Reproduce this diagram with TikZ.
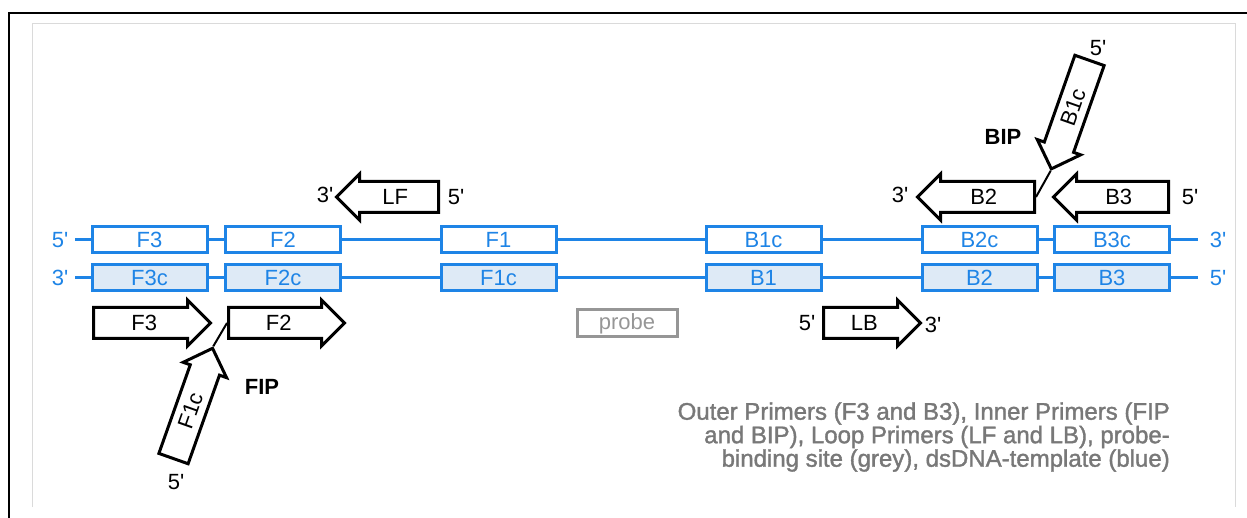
\documentclass[tikz,border=0pt]{standalone}
\usepackage{fontspec}
\setmainfont{Liberation Sans}
\newfontfamily\notefont[FakeBold=1.5]{Liberation Sans}
\usetikzlibrary{shapes.arrows}
\definecolor{dnablue}{RGB}{30,132,230}
\definecolor{dnafill}{RGB}{222,234,246}
\definecolor{probegrey}{RGB}{150,150,150}
\definecolor{notegrey}{RGB}{120,120,120}
\definecolor{framegrey}{RGB}{218,218,218}
\newcommand{\prm}{\textquotesingle}

\begin{document}
\begin{tikzpicture}[x=1pt,y=-1pt,font=\fontsize{22pt}{26pt}\selectfont,
  strand/.style={draw=dnablue,line width=3pt},
  site/.style={draw=dnablue,line width=3pt,minimum width=115pt,minimum height=26pt,inner sep=0pt,text=dnablue},
  primer/.style={draw,line width=3pt,fill=white,shape=single arrow,single arrow head extend=7.5pt,
    text height=17pt,text depth=2pt,inner ysep=4.5pt,inner xsep=0pt,anchor=tail},
  end/.style={inner sep=0pt}]
\useasboundingbox (0,0) rectangle (1247,518);
\draw[line width=2.5pt] (9,518) -- (9,13) -- (1247,13);
\draw[framegrey,line width=1pt] (32,507) -- (32,24) -- (1235,24) -- (1235,507);

\coordinate (t5) at (75,240);
\coordinate (t3) at (1198,240);
\coordinate (b3) at (75,278);
\coordinate (b5) at (1198,278);
\path[strand] (t5) -- (t3);
\path[strand] (b3) -- (b5);
\node[end,text=dnablue] at (60,240) {5\prm};
\node[end,text=dnablue] at (60,278) {3\prm};
\node[end,text=dnablue] at (1218,240) {3\prm};
\node[end,text=dnablue] at (1218,278) {5\prm};

\node[site,fill=white] (1t) at (149.5,240) {F3};
\node[site,fill=white] (2t) at (283,240) {F2};
\node[site,fill=white] (3t) at (498.5,240) {F1};
\node[site,fill=white] (4t) at (763.5,240) {B1c};
\node[site,fill=white] (5t) at (979.5,240) {B2c};
\node[site,fill=white] (6t) at (1112,240) {B3c};
\node[site,fill=dnafill] (1b) at (149.5,278) {F3c};
\node[site,fill=dnafill] (2b) at (283,278) {F2c};
\node[site,fill=dnafill] (3b) at (498.5,278) {F1c};
\node[site,fill=dnafill] (4b) at (763.5,278) {B1};
\node[site,fill=dnafill] (5b) at (979.5,278) {B2};
\node[site,fill=dnafill] (6b) at (1112,278) {B3};

\node[draw=probegrey,line width=3pt,text=probegrey,minimum width=100pt,minimum height=27pt,inner sep=0pt] (probe) at (627,323.5) {probe};

\node[primer,minimum height=117pt] (F3p) at (92,323) {F3};
\node[primer,minimum height=116pt] (F2p) at (227,323) {F2};
\node[primer,minimum height=97pt] (LBp) at (822,323) {LB};
\node[primer,minimum height=102pt,shape border rotate=180] (LFp) at (440,197) {LF};
\node[primer,minimum height=117pt,shape border rotate=180] (B2p) at (1036,197) {B2};
\node[primer,minimum height=115pt,shape border rotate=180] (B3p) at (1170,197) {B3};
\node[primer,minimum height=117pt,rotate=70.5] (F1cp) at (173,460) {F1c};
\node[primer,minimum height=115pt,rotate=70.6,shape border rotate=180] (B1cp) at (1090,59) {B1c};
\path[draw,line width=2pt] (F1cp.tip) -- (F2p.tail);
\path[draw,line width=2pt] (B1cp.tip) -- (B2p.tail);

\node[end] at (325,195) {3\prm};
\node[end] at (456,197) {5\prm};
\node[end] at (900,195) {3\prm};
\node[end] at (1190,197) {5\prm};
\node[end] at (807,323) {5\prm};
\node[end] at (933,325) {3\prm};
\node[end] at (1098,48) {5\prm};
\node[end] at (176,482) {5\prm};
\node[end,font=\fontsize{22pt}{26pt}\bfseries] (bip) at (1003,137) {BIP};
\node[end,font=\fontsize{22pt}{26pt}\bfseries] (fip) at (262,387) {FIP};

\node[end,anchor=east,align=right,text=notegrey,font=\notefont\fontsize{24pt}{23.5pt}\selectfont] (key) at (1170,437)
  {Outer Primers (F3 and B3), Inner Primers (FIP\\and BIP), Loop Primers (LF and LB), probe-\\binding site (grey), dsDNA-template (blue)};
\end{tikzpicture}
\end{document}
